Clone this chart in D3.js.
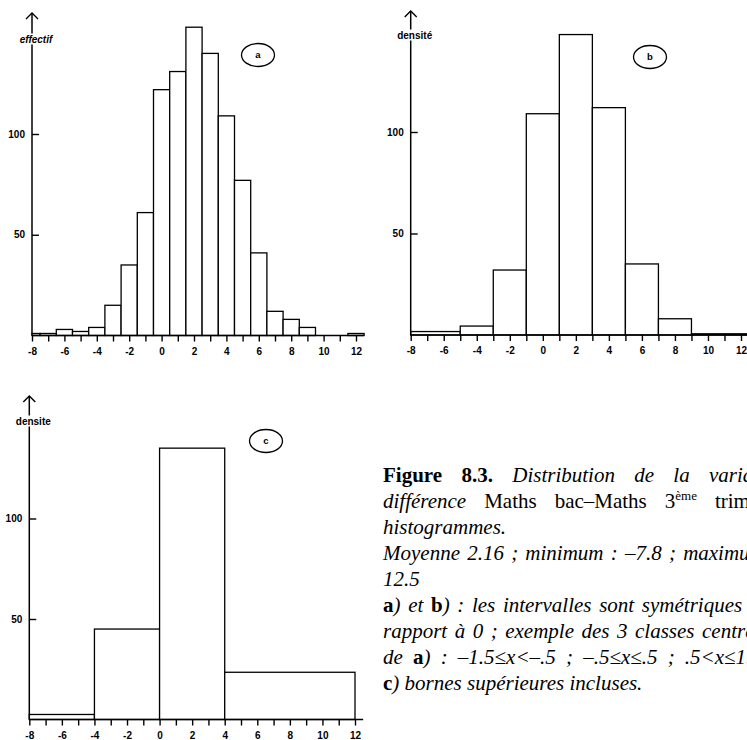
<!DOCTYPE html>
<html>
<head>
<meta charset="utf-8">
<script src="https://cdn.jsdelivr.net/npm/d3@7"></script>
<style>
  body { margin: 0; background: #fff; }
  svg { display: block; }
  .tick text { font-family: "Liberation Sans", Arial, sans-serif; font-size: 10px; font-weight: bold; fill: #000; }
  .tick line { stroke: #000; stroke-width: 1.4; }
</style>
</head>
<body>
<div id="fig"></div>
<script>
// a) effectifs, classes de largeur 1 centrees sur les entiers
let aCenters = [-8, -7, -6, -5, -4, -3, -2, -1, 0, 1, 2, 3, 4, 5, 6, 7, 8, 9, 10, 11, 12];
let aCounts  = [1, 1, 3, 2, 4, 15, 35, 61, 122, 131, 153, 140, 109, 77, 41, 12, 8, 4, 0, 0, 1];

// b) densites, classes de largeur 2 symetriques par rapport a 0
let bEdges   = [-8, -5, -3, -1, 1, 3, 5, 7, 9, 12.5];
let bDensity = [1.7, 4.4, 32, 109, 148, 112, 35, 8, 0.6];

// c) densites, bornes superieures incluses
let cEdges   = [-8, -4, 0, 4, 12];
let cDensity = [2.5, 45, 135, 23.5];

let xTicks = [-8, -7, -6, -5, -4, -3, -2, -1, 0, 1, 2, 3, 4, 5, 6, 7, 8, 9, 10, 11, 12];
let yTicks = [50, 100];

let svgWidth = 747;
let svgHeight = 740;

let svg = d3.select("#fig")
  .append("svg")
  .attr("width", svgWidth)
  .attr("height", svgHeight);

// panel layouts
let panels = [
  { x0: 32, x1: 356, base: 335.5, y100: 134, tip: 13, label: "effectif", labelY: 39, tag: "a", tagX: 258, tagY: 55 },
  { x0: 410.7, x1: 741, base: 335, y100: 132, tip: 11, label: "densité", labelY: 35, tag: "b", tagX: 650, tagY: 57 },
  { x0: 29.3, x1: 355, base: 719.5, y100: 518.5, tip: 396, label: "densite", labelY: 421, tag: "c", tagX: 266, tagY: 441 }
];

// bins for each panel as {lo, hi, v}
let binsA = aCenters.map((c, i) => ({ lo: Math.max(c - 0.5, -8), hi: c + 0.5, v: aCounts[i] }));
let binsB = bDensity.map((v, i) => ({ lo: bEdges[i], hi: bEdges[i + 1], v: v }));
let binsC = cDensity.map((v, i) => ({ lo: cEdges[i], hi: cEdges[i + 1], v: v }));

[binsA, binsB, binsC].forEach(function(bins, k) {
  let p = panels[k];
  let x = d3.scaleLinear().domain([-8, 12]).range([p.x0, p.x1]);
  let y = d3.scaleLinear().domain([0, 100]).range([p.base, p.y100]);
  let g = svg.append("g");

  // bars
  g.selectAll("rect.bar")
    .data(bins.filter(d => d.v > 0))
    .enter()
    .append("rect")
    .attr("class", "bar")
    .attr("x", d => x(d.lo))
    .attr("y", d => y(d.v))
    .attr("width", d => x(d.hi) - x(d.lo))
    .attr("height", d => y(0) - y(d.v))
    .attr("fill", "#fff")
    .attr("stroke", "#000")
    .attr("stroke-width", 1.3);

  // x axis
  let xAxis = d3.axisBottom(x)
    .tickValues(xTicks)
    .tickSize(6)
    .tickPadding(6)
    .tickFormat(d => d % 2 === 0 ? String(d) : "");
  let gx = g.append("g")
    .attr("transform", `translate(0, ${p.base})`)
    .call(xAxis);
  gx.select(".domain").remove();
  g.append("line")
    .attr("x1", x(-8)).attr("x2", x(12.5))
    .attr("y1", p.base).attr("y2", p.base)
    .attr("stroke", "#000").attr("stroke-width", 1.5);

  // y axis, ticks pointing inside
  let yAxis = d3.axisLeft(y)
    .tickValues(yTicks)
    .tickSizeInner(-7)
    .tickSizeOuter(0)
    .tickPadding(7)
    .tickFormat(d3.format("d"));
  let gy = g.append("g")
    .attr("transform", `translate(${x(-8)}, 0)`)
    .call(yAxis);
  gy.select(".domain").remove();

  g.append("line")
    .attr("x1", x(-8)).attr("x2", x(-8))
    .attr("y1", p.base).attr("y2", p.tip)
    .attr("stroke", "#000").attr("stroke-width", 1.5);
  g.append("path")
    .attr("d", `M${x(-8) - 6},${p.tip + 6}L${x(-8)},${p.tip}L${x(-8) + 6},${p.tip + 6}`)
    .attr("fill", "none").attr("stroke", "#000").attr("stroke-width", 1.4);

  // axis title on top of the line
  let lab = g.append("text")
    .attr("x", x(-8) + 4)
    .attr("y", p.labelY)
    .attr("dy", "0.35em")
    .attr("text-anchor", "middle")
    .attr("font-family", "Liberation Sans, Arial, sans-serif")
    .attr("font-size", "10px")
    .attr("font-weight", "bold")
    .attr("font-style", k === 0 ? "italic" : "normal")
    .text(p.label);
  let bb = lab.node().getBBox();
  g.insert("rect", () => lab.node())
    .attr("x", bb.x - 1).attr("y", bb.y)
    .attr("width", bb.width + 2).attr("height", bb.height)
    .attr("fill", "#fff");

  // panel tag
  g.append("ellipse")
    .attr("cx", p.tagX).attr("cy", p.tagY)
    .attr("rx", 16.5).attr("ry", 11.5)
    .attr("fill", "none").attr("stroke", "#000").attr("stroke-width", 1.3);
  g.append("text")
    .attr("x", p.tagX).attr("y", p.tagY)
    .attr("dy", "0.35em")
    .attr("text-anchor", "middle")
    .attr("font-family", "Liberation Sans, Arial, sans-serif")
    .attr("font-size", "9.5px")
    .attr("font-weight", "bold")
    .text(p.tag);
});

// caption, justified like the printed page (column runs past the right edge)
let capX = 383;
let capW = 396;
let capTop = 482;
let capLead = 26;
let capSize = 21;

let captionLines = [
  { just: true, words: [[["Figure", "b"]], [["8.3.", "b"]], [["Distribution", "i"]], [["de", "i"]], [["la", "i"]], [["variable", "i"]]] },
  { just: true, words: [[["différence", "i"]], [["Maths", "r"]], [["bac–Maths", "r"]], [["3", "r"], ["ème", "sup"]], [["trim.", "r"]], [[":", "r"]]] },
  { just: false, words: [[["histogrammes.", "i"]]] },
  { just: true, words: "Moyenne 2.16 ; minimum : –7.8 ; maximum :".split(" ").map(w => [[w, "i"]]) },
  { just: false, words: [[["12.5", "i"]]] },
  { just: true, words: [[["a", "b"], [")", "i"]], [["et", "i"]], [["b", "b"], [")", "i"]]].concat(": les intervalles sont symétriques par".split(" ").map(w => [[w, "i"]])) },
  { just: true, words: "rapport à 0 ; exemple des 3 classes centrales".split(" ").map(w => [[w, "i"]]) },
  { just: true, words: [[["de", "i"]], [["a", "b"], [")", "i"]]].concat(": –1.5≤x<–.5 ; –.5≤x≤.5 ; .5<x≤1.5 ;".split(" ").map(w => [[w, "i"]])) },
  { just: false, words: [[["c", "b"], [")", "i"]]].concat("bornes supérieures incluses.".split(" ").map(w => [[w, "i"]])) }
];

let cap = svg.append("g")
  .attr("font-family", "Liberation Serif, Times New Roman, serif")
  .attr("font-size", capSize + "px")
  .attr("fill", "#000");

captionLines.forEach(function(line, li) {
  let yy = capTop + li * capLead;
  let nodes = line.words.map(function(runs) {
    let t = cap.append("text").attr("y", yy);
    runs.forEach(function(r) {
      let s = t.append("tspan").text(r[0]);
      if (r[1] === "b") s.attr("font-weight", "bold");
      if (r[1] === "i") s.attr("font-style", "italic");
      if (r[1] === "sup") s.attr("font-size", "13px").attr("dy", -8);
    });
    return t;
  });
  let widths = nodes.map(t => t.node().getComputedTextLength());
  let total = d3.sum(widths);
  let gap = line.just && nodes.length > 1 ? (capW - total) / (nodes.length - 1) : capSize * 0.25;
  let xx = capX;
  nodes.forEach(function(t, i) {
    t.attr("x", xx);
    xx += widths[i] + gap;
  });
});
</script>
</body>
</html>
